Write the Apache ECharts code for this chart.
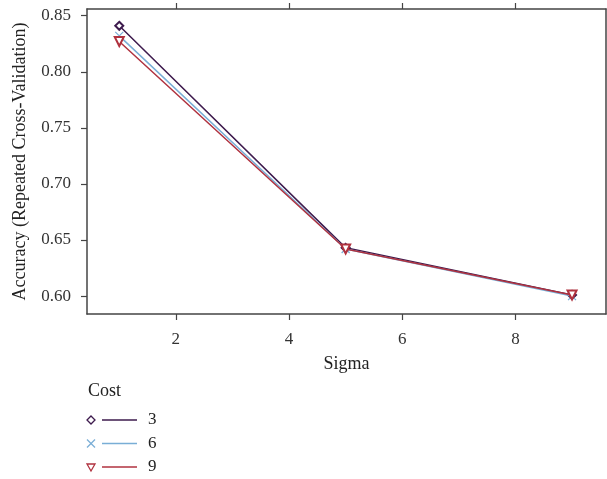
<!DOCTYPE html>
<html>
<head>
<meta charset="utf-8">
<script src="https://cdn.jsdelivr.net/npm/echarts@6/dist/echarts.min.js"></script>
<style>html,body{margin:0;padding:0;background:#fff}#chart{width:607px;height:479px}</style>
</head>
<body>
<div id="chart"></div>
<script>
var sigma = [1, 5, 9];
var costNames = ['3', '6', '9'];
var acc3 = [0.841, 0.643, 0.601];
var acc6 = [0.832, 0.642, 0.600];
var acc9 = [0.827, 0.642, 0.601];
var xTicks = [2, 4, 6, 8];
var yTicks = [0.60, 0.65, 0.70, 0.75, 0.80, 0.85];

var font = 'Liberation Serif';
var colors = ['#3d1a4d', '#79aed6', '#b0323f'];
var symbols = ['emptyDiamond', 'path://M0,0L10,10M10,0L0,10', 'emptyTriangle'];
var symbolRot = [0, 0, 180];
var symbolSizes = [8, 8, 9];
var allAcc = [acc3, acc6, acc9];

var series = [];
for (var i = 0; i < costNames.length; i++) {
    var pts = [];
    for (var j = 0; j < sigma.length; j++) pts.push([sigma[j], allAcc[i][j]]);
    series.push({
        name: costNames[i],
        type: 'line',
        data: pts,
        symbol: symbols[i],
        symbolRotate: symbolRot[i],
        symbolSize: symbolSizes[i],
        showAllSymbol: true,
        lineStyle: {color: colors[i], width: 1.5},
        itemStyle: {color: colors[i], borderColor: colors[i], borderWidth: 1.2},
        z: 2 + i
    });
}

var axisLine = {show: true, onZero: false, lineStyle: {color: '#444', width: 1.5}};
var tickLine = {color: '#444', width: 1.2};

// legend drawn as graphic
var legendEls = [{type: 'text', left: 88, top: 382, style: {text: 'Cost', font: '18px "' + font + '"', fill: '#222'}}];
for (var k = 0; k < costNames.length; k++) {
    var cy = 420 + k * 23.5;
    var g = {type: 'group', children: []};
    if (k === 0) {
        g.children.push({type: 'polygon', shape: {points: [[91, cy - 4], [95, cy], [91, cy + 4], [87, cy]]}, style: {fill: 'none', stroke: colors[k], lineWidth: 1.3}});
    } else if (k === 1) {
        g.children.push({type: 'polyline', shape: {points: [[87, cy - 4], [95, cy + 4]]}, style: {stroke: colors[k], lineWidth: 1.2}});
        g.children.push({type: 'polyline', shape: {points: [[95, cy - 4], [87, cy + 4]]}, style: {stroke: colors[k], lineWidth: 1.2}});
    } else {
        g.children.push({type: 'polygon', shape: {points: [[87, cy - 3], [95, cy - 3], [91, cy + 4]]}, style: {fill: 'none', stroke: colors[k], lineWidth: 1.3}});
    }
    g.children.push({type: 'line', shape: {x1: 102, y1: cy, x2: 137, y2: cy}, style: {stroke: colors[k], lineWidth: 1.5}});
    g.children.push({type: 'text', x: 148, y: cy, style: {text: costNames[k], font: '17px "' + font + '"', fill: '#222', verticalAlign: 'middle'}});
    legendEls.push(g);
}

var option = {
    backgroundColor: '#fff',
    animation: false,
    textStyle: {fontFamily: font},
    grid: {left: 87, top: 9, right: 1, bottom: 165},
    xAxis: [
        {
            type: 'value', position: 'bottom', min: 0.43, max: 9.6,
            name: 'Sigma', nameLocation: 'middle', nameGap: 41,
            nameTextStyle: {fontSize: 18, color: '#222', fontFamily: font},
            axisLine: axisLine,
            axisTick: {show: true, customValues: xTicks, length: 6, lineStyle: tickLine},
            axisLabel: {customValues: xTicks, fontSize: 17, color: '#333', margin: 17, fontFamily: font},
            splitLine: {show: false}
        },
        {
            type: 'value', position: 'top', min: 0.43, max: 9.6,
            axisLine: axisLine,
            axisTick: {show: true, customValues: xTicks, length: 6, lineStyle: tickLine},
            axisLabel: {show: false},
            splitLine: {show: false}
        }
    ],
    yAxis: [
        {
            type: 'value', position: 'left', min: 0.584, max: 0.856,
            name: 'Accuracy (Repeated Cross-Validation)', nameLocation: 'middle', nameGap: 58,
            nameTextStyle: {fontSize: 18, color: '#222', fontFamily: font},
            axisLine: axisLine,
            axisTick: {show: true, customValues: yTicks, length: 6, lineStyle: tickLine},
            axisLabel: {customValues: yTicks, fontSize: 17, color: '#333', margin: 16, fontFamily: font,
                formatter: function (v) { return v.toFixed(2); }},
            splitLine: {show: false}
        },
        {
            type: 'value', position: 'right', min: 0.584, max: 0.856,
            axisLine: axisLine,
            axisTick: {show: false},
            axisLabel: {show: false},
            splitLine: {show: false}
        }
    ],
    series: series,
    graphic: legendEls
};

var myChart = echarts.init(document.getElementById('chart'));
myChart.setOption(option);
</script>
</body>
</html>
